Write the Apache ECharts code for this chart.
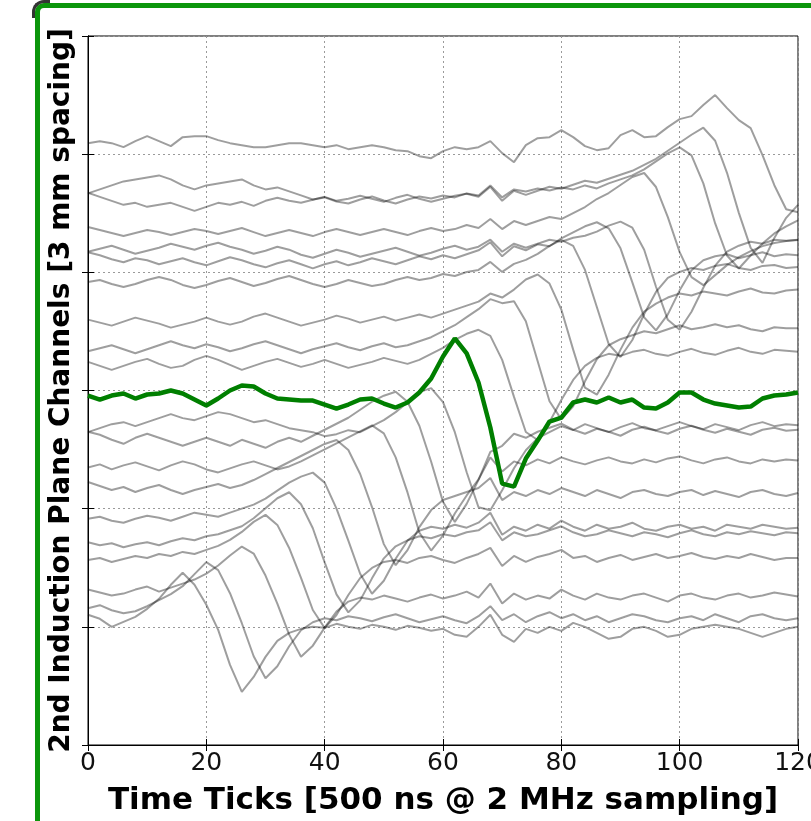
<!DOCTYPE html>
<html>
<head>
<meta charset="utf-8">
<script src="https://cdn.jsdelivr.net/npm/echarts@6/dist/echarts.min.js"></script>
<style>
  html, body { margin: 0; padding: 0; background: #fff; }
  #wrap { position: relative; width: 811px; height: 821px; overflow: hidden; background: #fff; }
  #chart { position: absolute; left: 0; top: 0; width: 811px; height: 821px; }
  #frame { position: absolute; left: 35px; top: 3px; width: 900px; height: 900px;
           border: 5px solid #0c960c; border-radius: 9px; box-sizing: border-box; pointer-events: none; }
  #corner { position: absolute; left: 32px; top: 0px; width: 18px; height: 18px;
            border-left: 3px solid #111; border-top: 3px solid #111; border-top-left-radius: 12px;
            box-sizing: border-box; pointer-events: none; opacity: 0.85; }
</style>
</head>
<body>
<div id="wrap">
  <div id="chart"></div>
  <div id="frame"></div>
  <div id="corner"></div>
</div>
<script>
// Time ticks sampled (every 2 ticks)
const timeTicks = [0,2,4,6,8,10,12,14,16,18,20,22,24,26,28,30,32,34,36,38,40,42,44,46,48,50,52,54,56,58,
  60,62,64,66,68,70,72,74,76,78,80,82,84,86,88,90,92,94,96,98,100,102,104,106,108,110,112,114,116,118,120];
const xTickLabels = [0,20,40,60,80,100,120];

// channel numbers and per-channel pedestal (ADC counts)
const channels  = [5,6,7,8,9,10,11,12,13,14,15,16,17,18,19,20,21,22,23,24,25];
const pedestals = [12,-5,-10,-4,-10,-10,3,-6,6,-18,-5,5,-8,0,14,20,-3,-2,8,-15,12];
const highlightChannel = 15;
const ADC_PER_CHANNEL = 23.6;

// waveforms (ADC counts above pedestal), one value per sampled time tick
const ch05 = [0,-4,-12,-7,-2,6,16,30,42,30, 10,-15,-50,-77,-62,-42,-26,-18,-14,-12, -13,-9,-12,-14,-10,-12,-15,-11,-13,-16,
  -14,-20,-22,-12,0,-20,-27,-14,-18,-12, -16,-8,-12,-18,-24,-22,-14,-12,-16,-22, -20,-14,-12,-10,-12,-14,-18,-22,-18,-14, -12];
const ch06 = [0,3,-2,-5,-3,2,8,14,22,34, 46,38,15,-15,-48,-70,-58,-38,-22,-14, -10,-12,-8,-10,-13,-9,-6,-10,-14,-11,
  -8,-12,-15,-8,2,-12,-6,-14,-8,-4, -10,-6,-12,-8,-14,-10,-6,-8,-12,-14, -10,-8,-12,-6,-10,-14,-8,-6,-10,-12, -10];
const ch07 = [0,-3,-6,-4,0,3,-2,2,6,10, 16,24,34,43,36,14,-14,-45,-67,-56, -38,-22,-12,-8,-10,-6,-9,-12,-8,-5,
  -9,-6,-2,-8,6,-14,-4,-10,-6,-9, 0,-6,-10,-4,-8,-10,-6,-4,-8,-12, -6,-4,-8,-10,-6,-4,-8,-6,-3,-5, -7];
const ch08 = [0,2,-2,1,4,2,6,4,8,6, 10,14,20,28,38,45,35,12,-18,-50, -68,-55,-35,-18,-8,-2,0,-3,2,4,
  0,-3,2,6,12,-6,4,-2,3,6, 10,2,4,-2,2,5,0,3,6,2, 4,7,3,1,4,2,6,3,0,2, 2];
const ch09 = [0,-3,-1,-5,-2,0,-3,1,4,2, 6,8,12,16,24,34,44,50,38,14, -20,-52,-70,-58,-36,-16,-4,2,6,4,
  8,6,10,12,20,2,10,6,8,12, 16,10,6,8,12,9,6,10,8,5, 9,12,8,6,10,8,11,9,7,10, 9];
const ch10 = [0,2,-2,-4,0,3,1,-2,2,6, 4,2,6,10,14,20,28,36,42,46, 36,10,-22,-55,-75,-62,-40,-22,-12,-8,
  -10,-6,-9,-4,6,-16,-8,-12,-6,-10, -2,-8,-12,-6,-10,-8,-4,-10,-12,-8, -6,-10,-8,-12,-6,-8,-10,-6,-8,-10, -9];
const ch11 = [0,-4,-8,-5,-10,-6,-3,-8,-12,-8, -5,-2,-6,-3,2,8,14,20,26,32, 38,42,32,8,-25,-62,-83,-68,-45,-28,
  -18,-14,-10,-6,4,-18,-10,-14,-8,-12, -6,-10,-14,-8,-12,-16,-10,-8,-12,-14, -10,-8,-13,-9,-12,-15,-10,-8,-12,-14, -11];
const ch12 = [0,3,-2,2,5,1,-3,2,6,3, -2,-5,-1,3,6,2,-2,1,6,12, 18,24,30,36,42,34,10,-25,-65,-83,
  -68,-46,-28,-12,10,-4,6,2,8,4, 10,6,3,7,10,6,4,8,5,9, 11,7,4,8,10,6,4,8,6,8, 7];
const ch13 = [0,-3,-8,-12,-6,-2,-6,-10,-14,-10, -6,-10,-14,-8,-12,-16,-10,-6,-10,-4, 2,8,14,22,30,36,40,30,6,-30,
  -70,-90,-72,-48,-20,-14,-2,-6,0,4, 8,2,-2,3,0,-4,2,5,1,-2, 3,6,2,-1,3,0,-3,2,4,1, 2];
const ch14 = [0,4,8,10,6,10,14,18,14,12, 16,20,18,14,10,12,8,4,2,0, -4,-2,2,0,6,12,20,30,40,44,
  30,0,-40,-75,-78,-58,-36,-18,-6,0, 6,2,8,4,0,5,9,4,2,6, 10,6,3,8,5,2,7,10,6,8, 7];
const ch15 = [0,-4,0,2,-3,1,2,5,2,-4, -10,-3,5,10,9,2,-3,-4,-5,-5, -9,-13,-9,-4,-3,-8,-12,-7,3,17,
  39,57,42,13,-32,-88,-91,-63,-45,-26, -22,-7,-4,-7,-2,-7,-4,-12,-13,-7, 3,3,-4,-8,-10,-12,-11,-3,0,1, 3];
const ch16 = [0,-4,-8,-4,0,3,-2,-6,-4,2, 6,2,-3,-8,-4,0,3,-1,-5,-2, 2,-2,-6,-3,0,4,1,-2,2,8,
  14,22,28,32,26,2,-35,-70,-78,-60, -38,-18,-4,4,8,6,10,12,8,6, 10,13,9,7,11,14,10,8,12,11, 10];
const ch17 = [0,3,6,2,-2,2,6,10,6,3, 7,4,0,3,7,10,6,2,-2,2, 5,8,4,1,5,8,4,6,10,14,
  20,26,34,42,52,48,50,30,-10,-50, -68,-55,-30,-8,6,12,16,20,18,22, 26,22,24,27,24,26,22,20,24,23, 23];
const ch18 = [0,-3,-6,-2,2,-1,-4,-8,-5,-2, 2,-2,-5,-2,3,6,2,-2,-6,-3, 0,4,1,-3,0,3,-1,2,5,2,
  6,10,14,18,26,22,30,40,45,36, 10,-30,-68,-75,-55,-30,-8,8,16,22, 26,24,28,26,24,28,31,27,26,29, 30];
const ch19 = [0,2,-2,-5,-2,2,5,2,-3,-6, -3,1,4,0,-4,-1,3,6,2,-2, -5,-2,2,-1,-4,-2,2,5,2,4,
  8,6,10,12,20,10,18,22,28,36, 42,36,12,-25,-62,-75,-58,-32,-10,4, 10,14,12,16,18,14,12,16,17,14, 15];
const ch20 = [0,-3,-7,-10,-6,-8,-12,-9,-6,-10, -13,-9,-5,-8,-12,-15,-11,-8,-12,-16, -12,-9,-13,-10,-6,-9,-12,-8,-4,-7,
  -3,-6,-2,2,10,-4,6,2,8,6, 14,20,26,30,24,4,-30,-65,-78,-62, -38,-18,-8,-4,-2,-6,-3,0,-4,-2, -3];
const ch21 = [0,3,6,2,-2,1,4,8,5,2, 6,9,5,2,-2,1,5,2,-3,-6, -2,2,-1,-5,-2,1,4,0,-4,-1,
  3,6,2,5,12,0,8,4,8,12, 10,14,16,20,26,30,24,2,-35,-68, -78,-60,-36,-14,0,6,10,8,12,11, 12];
const ch22 = [0,-3,-6,-9,-6,-3,-5,-8,-5,-2, -4,-7,-4,-1,-5,-9,-6,-3,-6,-9, -5,-2,-5,-8,-5,-2,-5,-8,-4,-1,
  -4,-2,2,-1,8,-2,6,2,6,10, 8,14,20,28,34,42,50,54,40,10, -25,-50,-58,-48,-38,-30,-24,-19,-16,-14, -13];
const ch23 = [0,4,8,12,14,16,18,14,8,4, 8,10,12,14,8,4,6,2,-2,-6, -4,-8,-10,-6,-3,-7,-10,-6,-3,-5,
  -2,-4,0,-2,8,-4,4,2,5,3, 6,4,8,5,10,14,18,24,32,40, 46,38,10,-30,-62,-75,-62,-50,-40,-33, -27];
const ch24 = [0,-4,-8,-12,-10,-14,-12,-10,-14,-18, -14,-10,-12,-9,-13,-8,-5,-8,-10,-7, -4,-8,-6,-3,-6,-9,-5,-2,-6,-9,
  -6,-3,-1,-4,6,-8,2,-2,2,6, 4,8,12,10,14,18,22,28,34,42, 50,58,65,52,20,-20,-55,-70,-45,-25, -12];
const ch25 = [-1,1,-1,-5,1,6,1,-4,5,6, 6,2,-1,-3,-5,-5,-3,-1,-1,-3, -5,-3,-7,-5,-3,-5,-8,-9,-14,-16,
  -9,-5,-7,-5,1,-11,-20,-3,4,5, 12,5,-4,-8,-6,7,12,5,6,15, 23,26,37,47,34,22,14,-13,-43,-67, -70];

const waveforms = [ch05,ch06,ch07,ch08,ch09,ch10,ch11,ch12,ch13,ch14,ch15,ch16,ch17,ch18,ch19,ch20,ch21,ch22,ch23,ch24,ch25];

const series = [];
channels.forEach((ch, k) => {
  const ped = pedestals[k];
  const data = timeTicks.map((t, i) => [t, ch + (ped + waveforms[k][i]) / ADC_PER_CHANNEL]);
  const hl = ch === highlightChannel;
  series.push({
    type: 'line', name: 'ch' + ch, data: data, showSymbol: false, silent: true,
    z: hl ? 5 : 2,
    lineStyle: hl ? { color: '#007f00', width: 4.5, opacity: 1 } : { color: '#000', width: 2, opacity: 0.38 }
  });
});

const chart = echarts.init(document.getElementById('chart'), null, { renderer: 'canvas' });
const grid = { left: 88, right: 13, top: 36, bottom: 76, containLabel: false, outerBoundsMode: 'none',
  show: true, borderColor: '#000', borderWidth: 1, backgroundColor: 'transparent' };
const dotted = { show: true, lineStyle: { color: '#9a9a9a', width: 1, type: [2, 3] } };
chart.setOption({
  animation: false,
  backgroundColor: 'transparent',
  grid: grid,
  xAxis: [{
    type: 'value', min: 0, max: 120, interval: 20, position: 'bottom',
    axisLine: { show: true, lineStyle: { color: '#000', width: 1 } },
    axisTick: { show: true, inside: true, length: 6, lineStyle: { color: '#000' } },
    axisLabel: { show: true, fontSize: 25, color: '#111', margin: 6, fontFamily: 'DejaVu Sans',
                 showMinLabel: true, showMaxLabel: true, hideOverlap: false,
                 formatter: v => xTickLabels.includes(v) ? String(v) : '' },
    splitLine: dotted,
    name: 'Time Ticks [500 ns @ 2 MHz sampling]', nameLocation: 'middle', nameGap: 40,
    nameTextStyle: { fontSize: 31, fontWeight: 'bold', color: '#000', fontFamily: 'DejaVu Sans' }
  }, {
    type: 'value', min: 0, max: 120, interval: 20, position: 'top',
    axisLine: { show: true, lineStyle: { color: '#000', width: 1 } },
    axisTick: { show: true, inside: true, length: 6, lineStyle: { color: '#000' } },
    axisLabel: { show: false }, splitLine: { show: false }
  }],
  yAxis: [{
    type: 'value', min: 0, max: 30, interval: 5, position: 'left',
    axisLine: { show: true, lineStyle: { color: '#000', width: 1 } },
    axisTick: { show: true, inside: true, length: 6, lineStyle: { color: '#000' } },
    axisLabel: { show: false },
    splitLine: dotted,
    name: '2nd Induction Plane Channels [3 mm spacing]', nameLocation: 'middle', nameGap: 12,
    nameTextStyle: { fontSize: 28, fontWeight: 'bold', color: '#000', fontFamily: 'DejaVu Sans' }
  }, {
    type: 'value', min: 0, max: 30, interval: 5, position: 'right',
    axisLine: { show: true, lineStyle: { color: '#000', width: 1 } },
    axisTick: { show: true, inside: true, length: 6, lineStyle: { color: '#000' } },
    axisLabel: { show: false }, splitLine: { show: false }
  }],
  series: series
});
</script>
</body>
</html>
